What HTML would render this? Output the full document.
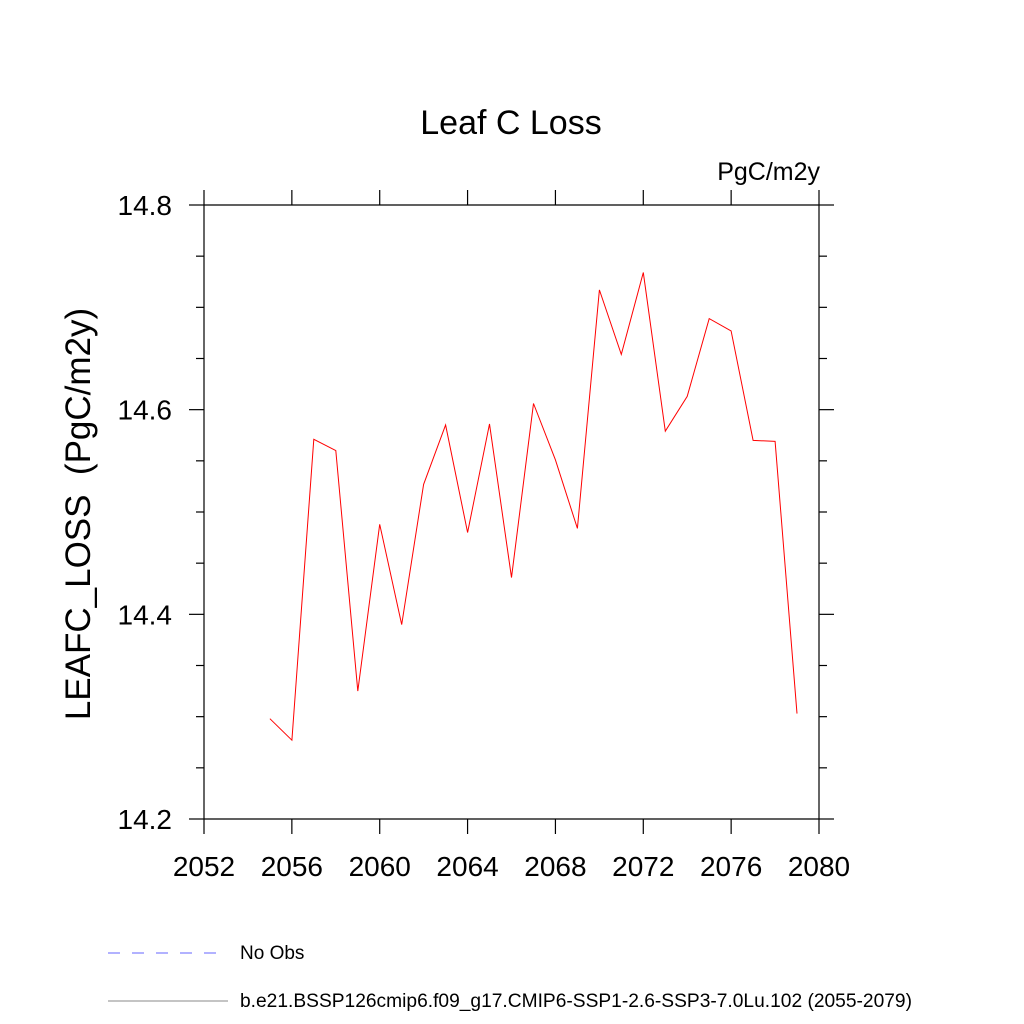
<!DOCTYPE html>
<html><head><meta charset="utf-8"><style>body{margin:0;background:#fff}svg{display:block}</style></head><body>
<svg id="c" width="1024" height="1024" xmlns="http://www.w3.org/2000/svg" font-family="Liberation Sans, sans-serif">
<text x="511" y="134" font-size="34" text-anchor="middle">Leaf C Loss</text>
<text x="820" y="180" font-size="25" text-anchor="end">PgC/m2y</text>
<text transform="translate(90,514) rotate(-90)" font-size="35" text-anchor="middle" xml:space="preserve">LEAFC_LOSS  (PgC/m2y)</text>
<g id="axes" stroke="#000" stroke-width="1.2" fill="none"></g>
<path id="series" fill="none" stroke="#ff0000" stroke-width="1"/>
<line x1="108" y1="953" x2="228" y2="953" stroke="#6666ff" stroke-dasharray="12,12"/>
<text x="240" y="959" font-size="19">No Obs</text>
<line x1="108" y1="1001" x2="228" y2="1001" stroke="#888"/>
<text x="240" y="1007" font-size="19.2">b.e21.BSSP126cmip6.f09_g17.CMIP6-SSP1-2.6-SSP3-7.0Lu.102 (2055-2079)</text>
</svg>
<script>
const years=[2055,2056,2057,2058,2059,2060,2061,2062,2063,2064,2065,2066,2067,2068,2069,2070,2071,2072,2073,2074,2075,2076,2077,2078,2079];
const values=[14.298,14.277,14.571,14.560,14.325,14.488,14.390,14.527,14.585,14.480,14.586,14.436,14.606,14.551,14.484,14.717,14.654,14.734,14.579,14.613,14.689,14.677,14.570,14.569,14.303];
const xTicks=[2052,2056,2060,2064,2068,2072,2076,2080];
const yTicks=[14.2,14.4,14.6,14.8];
const yMinor=[14.25,14.3,14.35,14.45,14.5,14.55,14.65,14.7,14.75];
const L=204,R=819,T=205,B=819;
const xs=v=>L+(v-2052)/28*(R-L);
const ys=v=>B-(v-14.2)/0.6*(B-T);
const svg=document.getElementById('c'),ax=document.getElementById('axes'),NS='http://www.w3.org/2000/svg';
function ln(x1,y1,x2,y2,n){const e=document.createElementNS(NS,'line');e.setAttribute('x1',x1);e.setAttribute('y1',y1);e.setAttribute('x2',x2);e.setAttribute('y2',y2);


ax.appendChild(e);}
function tx(x,y,s,a,n){const e=document.createElementNS(NS,'text');e.setAttribute('x',x);e.setAttribute('y',y);e.setAttribute('font-size','28');e.setAttribute('text-anchor',a);e.textContent=s;


svg.appendChild(e);}
ln(L,T,R,T,'frame-top');ln(L,B,R,B,'frame-bottom');ln(L,T,L,B,'frame-left');ln(R,T,R,B,'frame-right');
xTicks.forEach(v=>{const x=xs(v);ln(x,B,x,B+15,'x-tick');ln(x,T,x,T-15,'x-tick-top');tx(x,876,String(v),'middle','x-tick-label');});
yTicks.forEach(v=>{const y=ys(v);ln(L,y,L-15,y,'y-tick');ln(R,y,R+15,y,'y-tick-right');tx(172,y+10,v.toFixed(1),'end','y-tick-label');});
yMinor.forEach(v=>{const y=ys(v);ln(L,y,L-8,y,'y-minor-tick');ln(R,y,R+8,y,'y-minor-tick-right');});
document.getElementById('series').setAttribute('d',years.map((y,i)=>(i?'L':'M')+xs(y).toFixed(1)+','+ys(values[i]).toFixed(1)).join(' '));
</script>
</body></html>
